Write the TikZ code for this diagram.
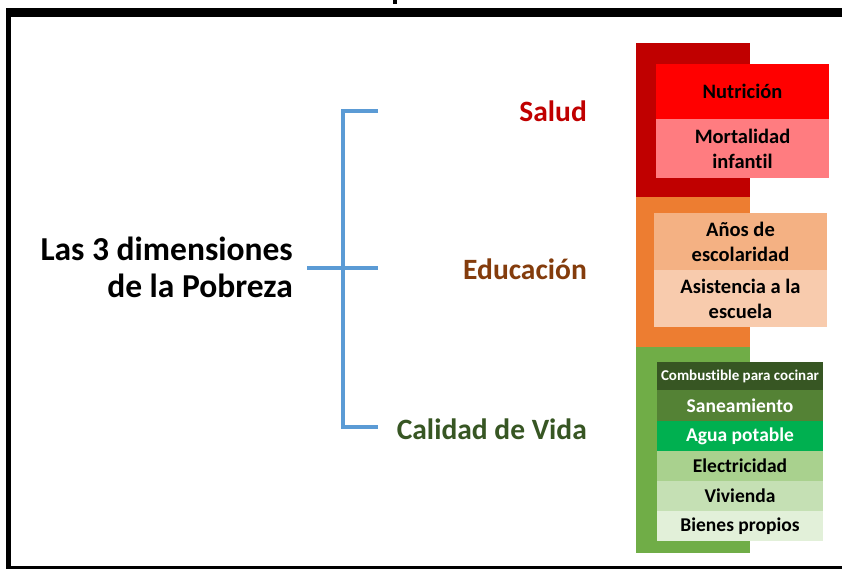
\documentclass[tikz,border=0pt]{standalone}
\usepackage{fontspec}
\setmainfont{Carlito}[Ligatures=NoCommon]
\definecolor{frameblk}{HTML}{000000}
\definecolor{brkblue}{HTML}{5B9BD5}
\definecolor{redback}{HTML}{C00000}
\definecolor{nutred}{HTML}{FF0000}
\definecolor{mortred}{HTML}{FF7C80}
\definecolor{orback}{HTML}{ED7D31}
\definecolor{anosor}{HTML}{F4B183}
\definecolor{asisor}{HTML}{F8CBAD}
\definecolor{grback}{HTML}{70AD47}
\definecolor{combgr}{HTML}{375623}
\definecolor{sanegr}{HTML}{548235}
\definecolor{aguagr}{HTML}{00B050}
\definecolor{elecgr}{HTML}{A9D18E}
\definecolor{vivgr}{HTML}{C5E0B4}
\definecolor{biengr}{HTML}{E2F0D9}
\definecolor{edubrown}{HTML}{843C0C}
\definecolor{saludred}{HTML}{C00000}
\definecolor{vidagreen}{HTML}{375623}
\begin{document}
\begin{tikzpicture}[x=1pt,y=-1pt,
  backblk/.style={draw=none,inner sep=0,outer sep=0,anchor=north west},
  subbox/.style={draw=none,inner sep=0,outer sep=0,anchor=north west,align=center,
    font=\bfseries\fontsize{20.5}{25}\selectfont},
  grbox/.style={subbox,minimum width=166pt,minimum height=30pt,
    font=\bfseries\fontsize{19.5}{22}\selectfont},
  dimlabel/.style={anchor=base east,inner sep=0,font=\bfseries\fontsize{29.5}{34}\selectfont},
  brk/.style={draw=brkblue,line width=4pt}]
\useasboundingbox (0,0) rectangle (842,569);
\fill[white] (0,0) rectangle (842,569);
% frame
\fill[frameblk] (6,8.5) rectangle (842,17);
\fill[frameblk] (6,8.5) rectangle (11,569);
\fill[frameblk] (6,566) rectangle (842,569);
\fill[frameblk] (393,0) rectangle (397,4);
% title
\node[anchor=base east,inner sep=0,align=right,font=\bfseries\fontsize{33.5}{37}\selectfont]
  (title) at (293,297) {Las 3 dimensiones\\de la Pobreza};
% labels
\node[dimlabel,text=saludred] (salud) at (587,121.5) {Salud};
\node[dimlabel,text=edubrown] (edu) at (587,279) {Educación};
\node[dimlabel,text=vidagreen] (vida) at (587,439) {Calidad de Vida};
% bracket
\coordinate (armS) at (378,111);
\coordinate (topC) at (343,111);
\coordinate (botC) at (343,427);
\coordinate (armC) at (378,427);
\coordinate (root) at (307,268);
\coordinate (armE) at (378,268);
\draw[brk] (armS) -- (topC) -- (botC) -- (armC);
\draw[brk] (root) -- (armE);
% back blocks
\node[backblk,fill=redback,minimum width=114pt,minimum height=154pt] (redb) at (636,43) {};
\node[backblk,fill=orback,minimum width=114pt,minimum height=150pt] (orb) at (636,197) {};
\node[backblk,fill=grback,minimum width=114pt,minimum height=206pt] (grb) at (636,347) {};
% salud
\node[subbox,fill=nutred,minimum width=173pt,minimum height=55pt] (nut) at (656,64) {Nutrición};
\node[subbox,fill=mortred,minimum width=173pt,minimum height=59pt] (mort) at (656,119) {Mortalidad\\infantil};
% educacion
\node[subbox,fill=anosor,minimum width=173pt,minimum height=57pt] (anos) at (654,213) {Años de\\escolaridad};
\node[subbox,fill=asisor,minimum width=173pt,minimum height=57pt] (asis) at (654,270) {Asistencia a la\\escuela};
% calidad de vida
\node[grbox,fill=combgr,text=white,minimum height=28pt,font=\bfseries\fontsize{15}{17}\selectfont] (comb) at (657,362) {Combustible para cocinar};
\node[grbox,fill=sanegr,text=white,minimum height=31pt] (sane) at (657,390) {Saneamiento};
\node[grbox,fill=aguagr,text=white] (agua) at (657,421) {Agua potable};
\node[grbox,fill=elecgr] (elec) at (657,451) {Electricidad};
\node[grbox,fill=vivgr] (viv) at (657,481) {Vivienda};
\node[grbox,fill=biengr] (bien) at (657,511) {Bienes propios};
\end{tikzpicture}
\end{document}
